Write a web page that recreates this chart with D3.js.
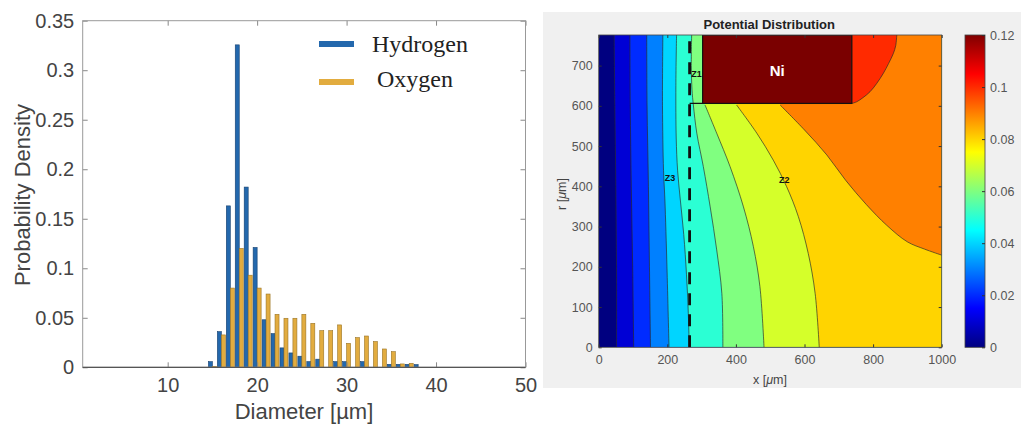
<!DOCTYPE html>
<html>
<head>
<meta charset="utf-8">
<script src="https://cdn.jsdelivr.net/npm/d3@7"></script>
<style>
  html, body { margin: 0; padding: 0; background: #fff; }
  svg { display: block; }
</style>
</head>
<body>
<svg id="chart" width="1021" height="428"></svg>
<script>
// ---- left panel: bubble diameter histogram ----
const diameters = [15, 16, 17, 18, 19, 20, 21, 22, 23, 24, 25, 26, 27, 28, 29, 30, 31, 32, 33, 34, 35, 36, 37, 38];
const hydrogen = [0.0057, 0.036, 0.163, 0.3256, 0.182, 0.121, 0.048, 0.034, 0.0196, 0.0145, 0.0112, 0.0057, 0.0082, 0, 0.0057, 0.0057, 0, 0.0057, 0, 0, 0.003, 0.003, 0.003, 0.0027];
const oxygen = [0.001, 0.0327, 0.080, 0.120, 0.093, 0.080, 0.074, 0.0535, 0.0495, 0.0495, 0.0535, 0.0444, 0.037, 0.037, 0.0428, 0.0242, 0.030, 0.0316, 0.026, 0.0185, 0.0158, 0.0034, 0.004, 0];
const densityTicks = [0, 0.05, 0.1, 0.15, 0.2, 0.25, 0.3, 0.35];
const diameterTicks = [10, 20, 30, 40, 50];
const seriesNames = ['Hydrogen', 'Oxygen'];
const seriesColors = ['#2368ad', '#e2ac3f'];

// ---- right panel: potential distribution, points are [x um, r um] ----
const contour01 = [[45, 776], [47, 600], [50, 400], [52, 200], [52, 0]];
const contour02 = [[91, 776], [92, 600], [95, 400], [99, 200], [102, 0]];
const contour03 = [[140, 776], [141, 600], [145, 400], [148, 200], [151, 0]];
const contour04 = [[187, 776], [186, 600], [189, 440], [193, 366], [199, 200], [205, 0]];
const contour05 = [[227, 776], [225, 650], [226, 520], [230, 440], [238, 366], [248, 280], [256, 180], [261, 90], [264, 0]];
const contour06 = [[271, 776], [270, 700], [272, 640], [276, 602], [286, 532], [305, 449], [325, 349], [344, 242], [359, 134], [362, 0]];
const contour07 = [[310, 602], [344, 532], [383, 449], [422, 349], [451, 250], [470, 151], [482, 0]];
const contour08 = [[402, 602], [461, 532], [509, 465], [548, 399], [582, 325], [611, 233], [631, 134], [643, 0]];
const contour09 = [[529, 602], [600, 540], [665, 478], [720, 415], [780, 355], [840, 303], [900, 262], [950, 244], [1000, 229]];
const contour10 = [[869, 776], [866, 750], [859, 730], [845, 705], [830, 681], [810, 655], [791, 635], [770, 620], [752, 610], [738, 606]];
const contourLevels = [0.01, 0.02, 0.03, 0.04, 0.05, 0.06, 0.07, 0.08, 0.09, 0.10];
const contourLines = [contour01, contour02, contour03, contour04, contour05, contour06, contour07, contour08, contour09, contour10];
const niBox = { x0: 303, x1: 738, r0: 606, r1: 776 };
const interfaceX = 265;
const zoneLabels = [
  { name: 'Z1', x: 285, r: 680 },
  { name: 'Z3', x: 208, r: 420 },
  { name: 'Z2', x: 541, r: 416 },
];
const xTicksUm = [0, 200, 400, 600, 800, 1000];
const rTicksUm = [0, 100, 200, 300, 400, 500, 600, 700];
const cbarTicks = [0, 0.02, 0.04, 0.06, 0.08, 0.1, 0.12];
const jetStops = [0, 0.125, 0.375, 0.625, 0.875, 1];
const jetColors = ['#000080', '#0000ff', '#00ffff', '#ffff00', '#ff0000', '#800000'];

const svg = d3.select('#chart');
const fmt = (d) => String(+d.toFixed(2));
const SANS = '"Liberation Sans", Arial, sans-serif';

// ================= left panel =================
const L = { left: 82.7, right: 525.5, top: 20.7, bottom: 367.3 };
const x = d3.scaleLinear().domain([0.5, 50]).range([L.left, L.right]);
const y = d3.scaleLinear().domain([0, 0.35]).range([L.bottom, L.top]);
const left = svg.append('g');

const barW = 4;
[hydrogen, oxygen].forEach((vals, s) => {
  const rows = diameters.map((d, i) => ({ d, v: vals[i] })).filter((r) => r.v > 0);
  left.append('g').selectAll('rect').data(rows).join('rect')
    .attr('x', (r) => (s === 0 ? x(r.d) - barW : x(r.d)))
    .attr('y', (r) => y(r.v))
    .attr('width', barW)
    .attr('height', (r) => y(0) - y(r.v))
    .attr('fill', seriesColors[s])
    .attr('stroke', s === 0 ? '#16406e' : '#9a7426')
    .attr('stroke-width', 0.6);
});

function styleAxis(g, size, color) {
  g.select('.domain').remove();
  g.selectAll('.tick line').attr('stroke', '#888');
  g.selectAll('.tick text').attr('font-family', SANS).attr('font-size', size).attr('fill', color);
}

left.append('g').attr('transform', `translate(${L.left},0)`)
  .call(d3.axisLeft(y).tickValues(densityTicks).tickSizeInner(-5).tickSizeOuter(0).tickPadding(8.5).tickFormat(fmt))
  .call((g) => styleAxis(g, 20, '#444'));
left.append('g').attr('transform', `translate(0,${L.bottom})`)
  .call(d3.axisBottom(x).tickValues(diameterTicks).tickSizeInner(-5).tickSizeOuter(0).tickPadding(11))
  .call((g) => styleAxis(g, 20, '#444'));
left.append('g').attr('transform', `translate(0,${L.top})`)
  .call(d3.axisTop(x).tickValues(diameterTicks).tickSizeInner(-5).tickSizeOuter(0).tickFormat(''))
  .call((g) => styleAxis(g, 20, '#444'));
left.append('g').attr('transform', `translate(${L.right},0)`)
  .call(d3.axisRight(y).tickValues(densityTicks).tickSizeInner(-5).tickSizeOuter(0).tickFormat(''))
  .call((g) => styleAxis(g, 20, '#444'));

left.append('rect')
  .attr('x', L.left).attr('y', L.top)
  .attr('width', L.right - L.left).attr('height', L.bottom - L.top)
  .attr('fill', 'none').attr('stroke', '#999').attr('stroke-width', 1);
left.append('line')
  .attr('x1', L.left).attr('x2', L.right).attr('y1', L.bottom).attr('y2', L.bottom)
  .attr('stroke', '#555').attr('stroke-width', 1.2);

left.append('text')
  .attr('transform', 'translate(22,195) rotate(-90)')
  .attr('text-anchor', 'middle').attr('dominant-baseline', 'central')
  .attr('font-family', SANS).attr('font-size', 22).attr('fill', '#444')
  .text('Probability Density');
left.append('text')
  .attr('x', 304).attr('y', 419).attr('text-anchor', 'middle')
  .attr('font-family', SANS).attr('font-size', 22).attr('fill', '#444')
  .text('Diameter [µm]');

const legend = left.append('g');
const legendRows = [{ y: 44, tx: 372, ty: 52 }, { y: 82, tx: 377, ty: 87 }];
seriesNames.forEach((name, i) => {
  const r = legendRows[i];
  legend.append('line')
    .attr('x1', 319).attr('x2', 354).attr('y1', r.y).attr('y2', r.y)
    .attr('stroke', seriesColors[i]).attr('stroke-width', 6);
  legend.append('text')
    .attr('x', r.tx).attr('y', r.ty)
    .attr('font-family', '"Liberation Serif", "Times New Roman", serif')
    .attr('font-size', 24).attr('fill', '#222')
    .text(name);
});

// ================= right panel =================
svg.append('rect').attr('x', 543).attr('y', 12).attr('width', 478).attr('height', 376).attr('fill', '#f0f0f0');

const P = { left: 598.7, right: 941.7, top: 35, bottom: 347.3 };
const xMax = 1000, rMax = 776;
const px = d3.scaleLinear().domain([0, xMax]).range([P.left, P.right]);
const pr = d3.scaleLinear().domain([0, rMax]).range([P.bottom, P.top]);
const jet = d3.scaleLinear().domain(jetStops.map((t) => t * 0.12)).range(jetColors);

const right = svg.append('g');
const defs = svg.append('defs');
defs.append('clipPath').attr('id', 'plotClip').append('rect')
  .attr('x', P.left).attr('y', P.top).attr('width', P.right - P.left).attr('height', P.bottom - P.top);

const plot = right.append('g').attr('clip-path', 'url(#plotClip)');
const contourLine = d3.line().x((d) => px(d[0])).y((d) => pr(d[1])).curve(d3.curveCatmullRom.alpha(0.5));

function closeCorners(pts) {
  const first = pts[0];
  const last = pts[pts.length - 1];
  const c = [];
  if (last[1] === 0) c.push([xMax, 0], [xMax, rMax]);
  else if (last[0] === xMax) c.push([xMax, rMax]);
  else c.push([last[0], rMax]);
  if (first[1] < rMax) c.push([first[0], rMax]);
  return c;
}

plot.append('rect')
  .attr('x', px(0)).attr('y', pr(rMax)).attr('width', px(xMax) - px(0)).attr('height', pr(0) - pr(rMax))
  .attr('fill', jet(0));

plot.append('g').selectAll('path').data(contourLines).join('path')
  .attr('d', (pts) => contourLine(pts) + closeCorners(pts).map((c) => `L${px(c[0])},${pr(c[1])}`).join('') + 'Z')
  .attr('fill', (pts, i) => jet(contourLevels[i]));

plot.append('g').selectAll('path').data(contourLines).join('path')
  .attr('d', contourLine)
  .attr('fill', 'none').attr('stroke', '#2a2a2a').attr('stroke-opacity', 0.75).attr('stroke-width', 0.9);

plot.append('rect')
  .attr('x', px(niBox.x0)).attr('y', pr(niBox.r1))
  .attr('width', px(niBox.x1) - px(niBox.x0)).attr('height', pr(niBox.r0) - pr(niBox.r1))
  .attr('fill', '#7a0000').attr('stroke', '#111').attr('stroke-width', 1.2);
plot.append('line')
  .attr('x1', px(interfaceX)).attr('x2', px(niBox.x0)).attr('y1', pr(niBox.r0)).attr('y2', pr(niBox.r0))
  .attr('stroke', '#111').attr('stroke-width', 1.3);
plot.append('line')
  .attr('x1', px(interfaceX)).attr('x2', px(interfaceX)).attr('y1', pr(0)).attr('y2', pr(rMax))
  .attr('stroke', '#111').attr('stroke-width', 2.8).attr('stroke-dasharray', '12,9');

plot.append('text')
  .attr('x', px((niBox.x0 + niBox.x1) / 2)).attr('y', pr(689))
  .attr('text-anchor', 'middle').attr('dominant-baseline', 'central')
  .attr('font-family', SANS).attr('font-weight', 'bold').attr('font-size', 15).attr('fill', '#fff')
  .text('Ni');
plot.append('g').selectAll('text').data(zoneLabels).join('text')
  .attr('x', (d) => px(d.x)).attr('y', (d) => pr(d.r))
  .attr('text-anchor', 'middle').attr('dominant-baseline', 'central')
  .attr('font-family', SANS).attr('font-weight', 'bold').attr('font-size', 9).attr('fill', '#111')
  .text((d) => d.name);

function styleSmall(g) {
  g.select('.domain').remove();
  g.selectAll('.tick line').attr('stroke', '#333');
  g.selectAll('.tick text').attr('font-family', SANS).attr('font-size', 12.5).attr('fill', '#555');
}
right.append('g').attr('transform', `translate(0,${P.bottom})`)
  .call(d3.axisBottom(px).tickValues(xTicksUm).tickSizeInner(-3).tickSizeOuter(0).tickPadding(8).tickFormat(d3.format('d')))
  .call(styleSmall);
right.append('g').attr('transform', `translate(${P.left},0)`)
  .call(d3.axisLeft(pr).tickValues(rTicksUm).tickSizeInner(-3).tickSizeOuter(0).tickPadding(6).tickFormat(d3.format('d')))
  .call(styleSmall);
right.append('g').attr('transform', `translate(${P.right},0)`)
  .call(d3.axisRight(pr).tickValues(rTicksUm).tickSizeInner(-3).tickSizeOuter(0).tickFormat(''))
  .call(styleSmall);
right.append('g').attr('transform', `translate(0,${P.top})`)
  .call(d3.axisTop(px).tickValues(xTicksUm).tickSizeInner(-3).tickSizeOuter(0).tickFormat(''))
  .call(styleSmall);
right.append('rect')
  .attr('x', P.left).attr('y', P.top).attr('width', P.right - P.left).attr('height', P.bottom - P.top)
  .attr('fill', 'none').attr('stroke', '#444').attr('stroke-width', 0.8);

right.append('text')
  .attr('x', (P.left + P.right) / 2 - 1).attr('y', 29).attr('text-anchor', 'middle')
  .attr('font-family', SANS).attr('font-weight', 'bold').attr('font-size', 13).attr('fill', '#222')
  .text('Potential Distribution');

const xLab = right.append('text')
  .attr('x', 770).attr('y', 384).attr('text-anchor', 'middle')
  .attr('font-family', SANS).attr('font-size', 12.5).attr('fill', '#444');
xLab.append('tspan').text('x [');
xLab.append('tspan').attr('font-style', 'italic').text('μ');
xLab.append('tspan').text('m]');
const rLab = right.append('text')
  .attr('transform', 'translate(566,194) rotate(-90)').attr('text-anchor', 'middle')
  .attr('font-family', SANS).attr('font-size', 12.5).attr('fill', '#444');
rLab.append('tspan').text('r [');
rLab.append('tspan').attr('font-style', 'italic').text('μ');
rLab.append('tspan').text('m]');

// colorbar
const C = { left: 965, right: 985 };
const cb = d3.scaleLinear().domain([0, 0.12]).range([P.bottom, P.top]);
const grad = defs.append('linearGradient').attr('id', 'jetGrad')
  .attr('x1', 0).attr('y1', 1).attr('x2', 0).attr('y2', 0);
grad.selectAll('stop').data(jetStops).join('stop')
  .attr('offset', (t) => t).attr('stop-color', (t, i) => jetColors[i]);
right.append('rect')
  .attr('x', C.left).attr('y', P.top).attr('width', C.right - C.left).attr('height', P.bottom - P.top)
  .attr('fill', 'url(#jetGrad)').attr('stroke', '#444').attr('stroke-width', 0.8);
right.append('g').attr('transform', `translate(${C.right},0)`)
  .call(d3.axisRight(cb).tickValues(cbarTicks).tickSizeInner(-3).tickSizeOuter(0).tickPadding(5).tickFormat(fmt))
  .call(styleSmall);
</script>
</body>
</html>
